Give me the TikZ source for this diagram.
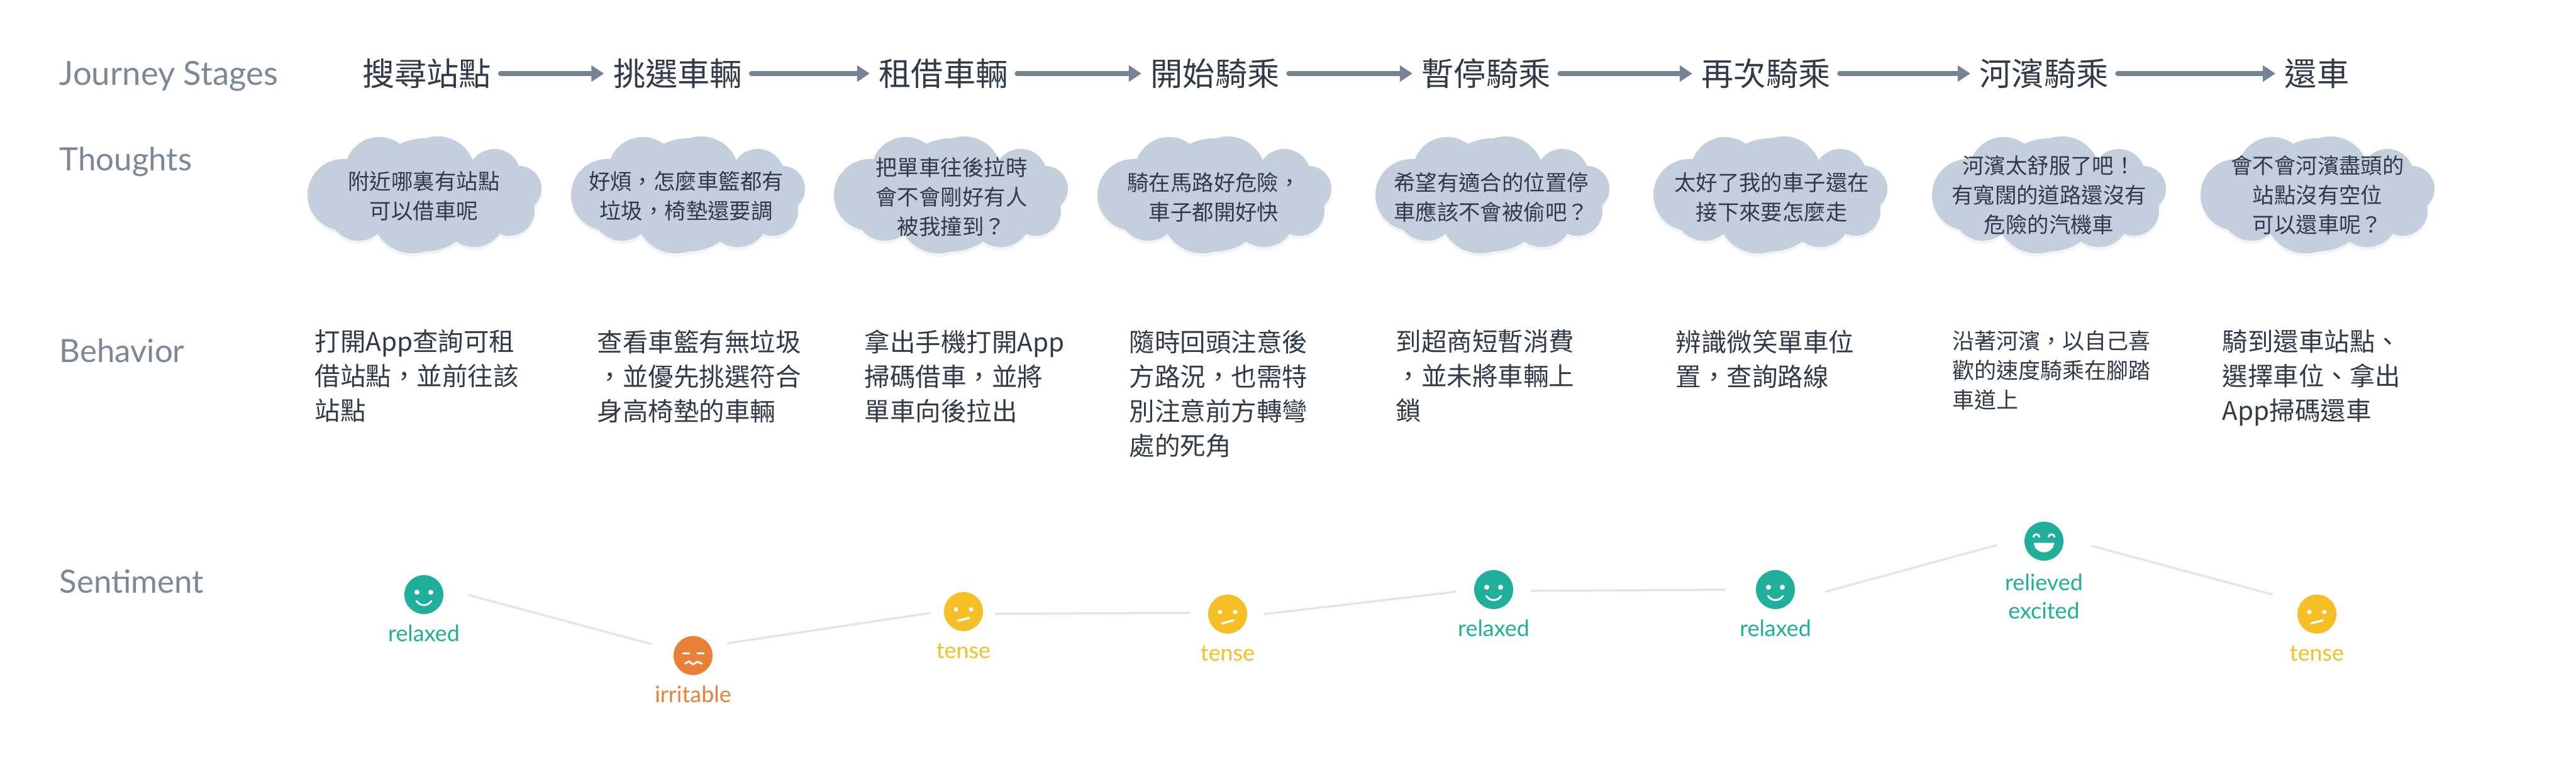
\documentclass[tikz,border=0pt]{standalone}
\usepackage{fontspec}
\setmainfont{Lato}
\newfontfamily\cjk{Noto Sans CJK TC}
\usetikzlibrary{arrows.meta,positioning}
\definecolor{rowgray}{HTML}{7B8896}
\definecolor{inkdark}{HTML}{2F3B48}
\definecolor{arrowgray}{HTML}{748494}
\definecolor{cloudblue}{HTML}{C3CFDC}
\definecolor{cloudshade}{HTML}{F1F3F6}
\definecolor{lineblue}{HTML}{E1E6EC}
\definecolor{moodteal}{HTML}{1FAF9B}
\definecolor{moodorange}{HTML}{E98037}
\definecolor{moodyellow}{HTML}{F6BF26}
\tikzset{
	rowtitle/.style={anchor=west,inner sep=0,text=rowgray,font=\fontsize{14.5}{17}\selectfont},
	stagetext/.style={inner xsep=.14cm,inner ysep=0,text=inkdark,font=\cjk\fontsize{14.58}{18}\selectfont},
	stagearrow/.style={draw=arrowgray,line width=.075cm,line cap=round,-{Triangle[length=.2cm,width=.25cm]}},
	thoughttext/.style={align=center,inner sep=0,text=inkdark,font=\cjk\fontsize{9.79}{13.37}\selectfont},
	doingtext/.style={align=left,anchor=north west,inner sep=0,text=inkdark,font=\cjk\fontsize{11.52}{15.65}\selectfont},
	moodface/.style={circle,fill=#1,minimum size=.62cm,inner sep=0,outer sep=0},
	moodtext/.style={align=center,inner sep=0,text=#1,text height=.2cm,text depth=0pt,font=\fontsize{10.2}{13}\selectfont},
	moodline/.style={draw=lineblue,line width=.035cm},
	thoughtcloud/.pic={
		\foreach \dy/\c in {-.05/cloudshade,0/cloudblue}{
			\foreach \x/\y/\r in {-.72/.37/.55,.21/.33/.60,1.11/.31/.42,1.50/.10/.36,1.35/-.25/.40,.79/-.34/.49,-.19/-.28/.65,-1.05/-.26/.47,-1.29/0/.57,0/0/.9}
				\fill[\c] (\x,\y+\dy) circle (\r);
			\fill[\c] (-1,-.5) rectangle (1.2,.5);
		}
	},
	relaxedface/.pic={
		\fill[white] (-.11,.037) circle (.04) (.11,.037) circle (.04);
		\draw[white,line width=.03cm,line cap=round] (-.12,-.10) .. controls (-.06,-.19) and (.06,-.19) .. (.12,-.10);
	},
	tenseface/.pic={
		\fill[white] (-.12,.033) circle (.035) (.12,.033) circle (.035);
		\draw[white,line width=.035cm,line cap=round] (-.09,-.147) -- (.09,-.10);
	},
	irritableface/.pic={
		\draw[white,line width=.035cm] (-.17,.037) -- (-.055,.037) (.06,.037) -- (.18,.037);
		\draw[white,line width=.03cm,line cap=round,line join=round] (-.126,-.13) -- (-.067,-.09) -- (0,-.14) -- (.07,-.096) -- (.14,-.13);
	},
	relievedface/.pic={
		\draw[white,line width=.03cm] (-.17,.06) arc (180:0:.05) (.07,.06) arc (180:0:.05);
		\fill[white] (-.16,-.027) -- (.16,-.027) arc (0:-180:.16 and .15) -- cycle;
	}
}
\begin{document}
\begin{tikzpicture}
	\useasboundingbox (0,0) rectangle (40.96,-12.33);
	% row titles
	\node[rowtitle,font=\fontsize{15}{17}\selectfont] (journey) at (.94,-1.21) {Journey Stages};
	\node[rowtitle] (thoughts) at (.94,-2.57) {Thoughts};
	\node[rowtitle] (behavior) at (.94,-5.58) {Behavior};
	\node[rowtitle] (sentiment) at (.94,-9.25) {Sentiment};
	% stages
	\node[stagetext] (s1) at (6.785,-1.17) {搜尋站點};
	\node[stagetext] (s2) at (10.775,-1.17) {挑選車輛};
	\node[stagetext] (s3) at (15.00,-1.17) {租借車輛};
	\node[stagetext] (s4) at (19.32,-1.17) {開始騎乘};
	\node[stagetext] (s5) at (23.63,-1.17) {暫停騎乘};
	\node[stagetext] (s6) at (28.08,-1.17) {再次騎乘};
	\node[stagetext] (s7) at (32.50,-1.17) {河濱騎乘};
	\node[stagetext] (s8) at (36.84,-1.17) {還車};
	\foreach \a/\b in {s1/s2,s2/s3,s3/s4,s4/s5,s5/s6,s6/s7,s7/s8}
		\draw[stagearrow] (\a) -- (\b);
	% thoughts
	\foreach \x in {6.75,10.94,15.12,19.31,23.73,28.15,32.58,36.85}
		\pic at (\x,-3.10) {thoughtcloud};
	\node[thoughttext] (c1) at (6.74,-3.115) {附近哪裏有站點\\可以借車呢};
	\node[thoughttext] (c2) at (10.91,-3.115) {好煩，怎麼車籃都有\\垃圾，椅墊還要調};
	\node[thoughttext] (c3) at (15.13,-3.13) {把單車往後拉時\\會不會剛好有人\\被我撞到？};
	\node[thoughttext] (c4) at (19.30,-3.14) {騎在馬路好危險，\\車子都開好快};
	\node[thoughttext] (c5) at (23.71,-3.14) {希望有適合的位置停\\車應該不會被偷吧？};
	\node[thoughttext] (c6) at (28.17,-3.135) {太好了我的車子還在\\接下來要怎麼走};
	\node[thoughttext] (c7) at (32.58,-3.10) {河濱太舒服了吧！\\有寬闊的道路還沒有\\危險的汽機車};
	\node[thoughttext] (c8) at (36.85,-3.10) {會不會河濱盡頭的\\站點沒有空位\\可以還車呢？};
	% behavior
	\node[doingtext] (b1) at (5.00,-5.24) {打開App查詢可租\\借站點，並前往該\\站點};
	\node[doingtext] (b2) at (9.49,-5.24) {查看車籃有無垃圾\\，並優先挑選符合\\身高椅墊的車輛};
	\node[doingtext] (b3) at (13.74,-5.24) {拿出手機打開App\\掃碼借車，並將\\單車向後拉出};
	\node[doingtext] (b4) at (17.95,-5.24) {隨時回頭注意後\\方路況，也需特\\別注意前方轉彎\\處的死角};
	\node[doingtext] (b5) at (22.19,-5.24) {到超商短暫消費\\，並未將車輛上\\鎖};
	\node[doingtext] (b6) at (26.64,-5.24) {辨識微笑單車位\\置，查詢路線};
	\node[doingtext,font=\cjk\fontsize{9.96}{13.37}\selectfont] (b7) at (31.04,-5.25) {沿著河濱，以自己喜\\歡的速度騎乘在腳踏\\車道上};
	\node[doingtext] (b8) at (35.33,-5.24) {騎到還車站點、\\選擇車位、拿出\\App掃碼還車};
	% sentiment
	\node[moodface=moodteal] (f1) at (6.74,-9.46) {};
	\node[moodface=moodorange] (f2) at (11.02,-10.43) {};
	\node[moodface=moodyellow] (f3) at (15.32,-9.73) {};
	\node[moodface=moodyellow] (f4) at (19.52,-9.77) {};
	\node[moodface=moodteal] (f5) at (23.75,-9.38) {};
	\node[moodface=moodteal] (f6) at (28.23,-9.38) {};
	\node[moodface=moodteal] (f7) at (32.50,-8.61) {};
	\node[moodface=moodyellow] (f8) at (36.84,-9.77) {};
	\pic at (f1) {relaxedface};
	\pic at (f2) {irritableface};
	\pic at (f3) {tenseface};
	\pic at (f4) {tenseface};
	\pic at (f5) {relaxedface};
	\pic at (f6) {relaxedface};
	\pic at (f7) {relievedface};
	\pic at (f8) {tenseface};
	\node[moodtext=moodteal,below=.23cm of f1] (m1) {relaxed};
	\node[moodtext=moodorange,below=.23cm of f2] (m2) {irritable};
	\node[moodtext=moodyellow,below=.23cm of f3] (m3) {tense};
	\node[moodtext=moodyellow,below=.23cm of f4] (m4) {tense};
	\node[moodtext=moodteal,below=.23cm of f5] (m5) {relaxed};
	\node[moodtext=moodteal,below=.23cm of f6] (m6) {relaxed};
	\node[moodtext=moodteal,text height=,text depth=,below=.2cm of f7] (m7) {relieved\\excited};
	\node[moodtext=moodyellow,below=.23cm of f8] (m8) {tense};
	\draw[moodline,shorten <=.42cm,shorten >=.38cm] (f1.20) -- (f2.164);
	\draw[moodline,shorten <=.275cm,shorten >=.22cm] (f2.30) -- (f3.178);
	\draw[moodline,shorten <=.19cm,shorten >=.28cm] (f3.-7) -- (f4.176);
	\draw[moodline,shorten <=.27cm,shorten >=.28cm] (f4.-6) -- (f5.180);
	\draw[moodline,shorten <=.27cm,shorten >=.48cm] (f5.-4) -- (f6.180);
	\draw[moodline,shorten <=.56cm,shorten >=.46cm] (f6.-36) -- (f7.169);
	\draw[moodline,shorten <=.46cm,shorten >=.47cm] (f7.9) -- (f8.143);
\end{tikzpicture}
\end{document}
